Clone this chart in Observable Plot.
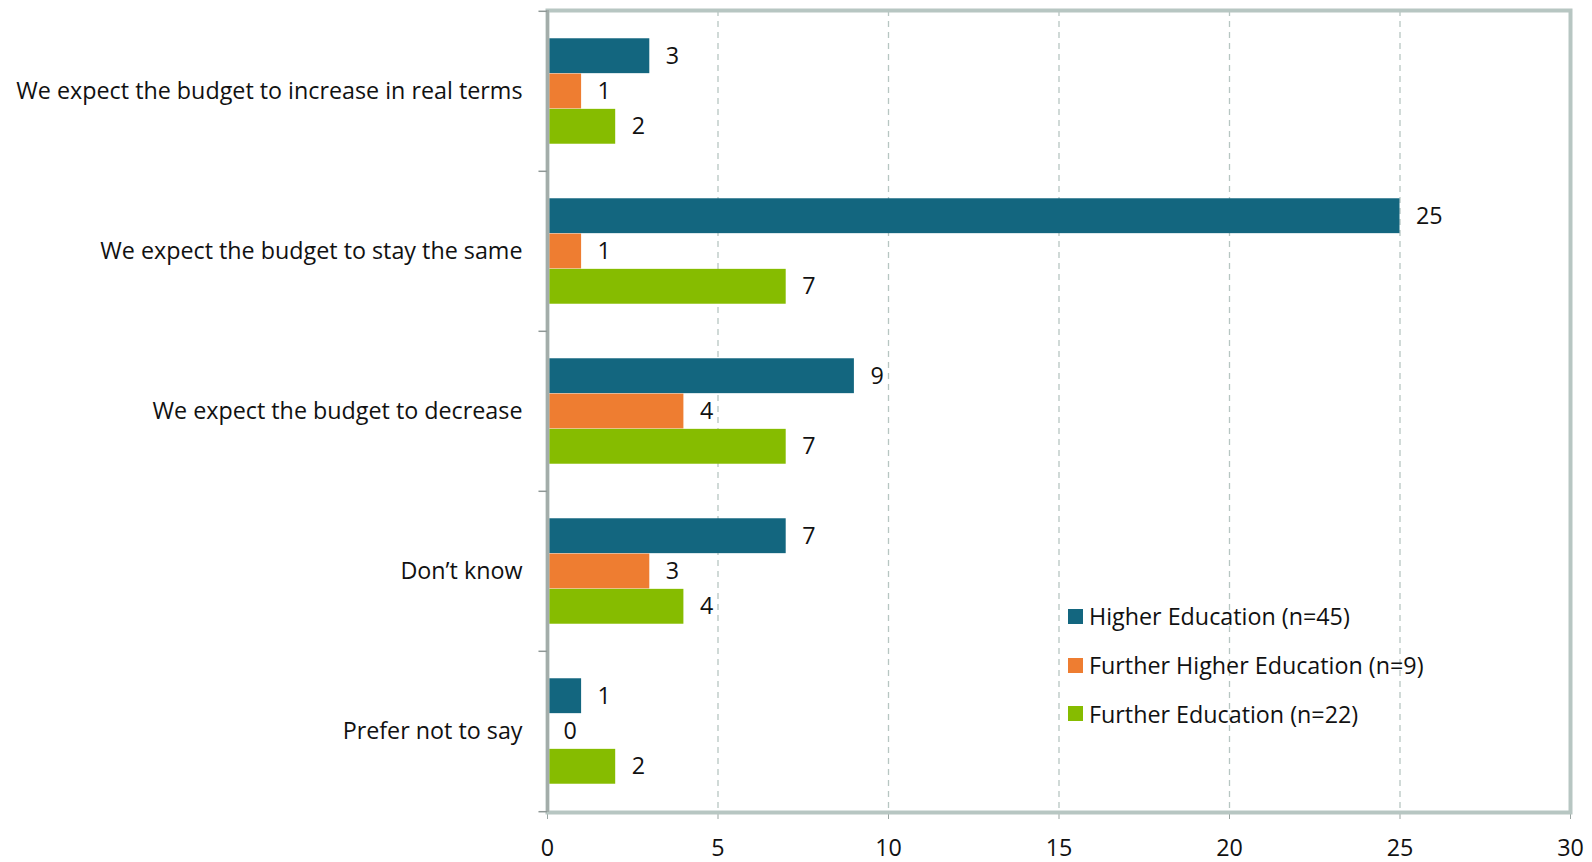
<!DOCTYPE html>
<html>
<head>
<meta charset="utf-8">
<script src="https://cdn.jsdelivr.net/npm/d3@7"></script>
<script src="https://cdn.jsdelivr.net/npm/@observablehq/plot@0.6"></script>
<style>
  html, body { margin: 0; padding: 0; background: #fff; }
  #wrap { position: relative; width: 1592px; height: 862px; font-family: "Open Sans", sans-serif; color: #111; }
  #legend { position: absolute; left: 1068px; top: 592px; font-size: 23.3px; }
  #legend .row { display: flex; align-items: center; height: 48.7px; }
  #legend .sw { width: 15px; height: 15px; margin-right: 6px; }
  svg g[aria-label="x-axis tick"] { stroke: #9aa5a2; }
</style>
</head>
<body>
<div id="wrap"><div id="legend"></div></div>
<script>
const categories = [
  "We expect the budget to increase in real terms",
  "We expect the budget to stay the same",
  "We expect the budget to decrease",
  "Don’t know",
  "Prefer not to say"
];
const seriesNames = ["Higher Education (n=45)", "Further Higher Education (n=9)", "Further Education (n=22)"];
const higherEducation = [3, 25, 9, 7, 1];
const furtherHigherEducation = [1, 1, 4, 3, 0];
const furtherEducation = [2, 7, 7, 4, 2];
const seriesColors = ["#13667F", "#EE7D31", "#86BC00"];
const xTicks = [0, 5, 10, 15, 20, 25, 30];

const seriesValues = [higherEducation, furtherHigherEducation, furtherEducation];
const rows = [];
seriesNames.forEach((s, i) => categories.forEach((c, j) => rows.push({series: s, si: i, category: c, value: seriesValues[i][j]})));

const W = 1592, H = 862, mt = 10, mb = 50, ml = 547, mr = 22;
const step = (H - mt - mb) / categories.length;
const barH = step * 0.22;
const inset = (step - barH) / 2;
const gridColor = "#B7C6C2";
const fs = 23.3;

const marks = [
  Plot.ruleX(xTicks.filter(t => t > 0 && t < 30), {stroke: gridColor, strokeWidth: 1.3, strokeDasharray: "6,5"}),
];
seriesNames.forEach((s, i) => {
  const d = rows.filter(r => r.si === i);
  marks.push(Plot.barX(d, {x: "value", y: "category", fill: seriesColors[i], insetTop: inset, insetBottom: inset, dy: (i - 1) * barH}));
  marks.push(Plot.text(d, {x: "value", y: "category", text: r => String(r.value), dx: 16, dy: (i - 1) * barH, textAnchor: "start", fontSize: fs, fill: "#111"}));
});
marks.push(Plot.frame({stroke: gridColor, strokeWidth: 4}));
marks.push(Plot.ruleX([0], {stroke: "#A3ADAA", strokeWidth: 3}));
marks.push(Plot.ruleY(categories, {y: d => d, x1: -0.25, x2: 0, dy: -step / 2, stroke: "#8f9896", strokeWidth: 1.5}));
marks.push(Plot.ruleY([categories[categories.length - 1]], {y: d => d, x1: -0.25, x2: 0, dy: step / 2, stroke: "#8f9896", strokeWidth: 1.5}));

const chart = Plot.plot({
  width: W, height: H,
  marginTop: mt, marginBottom: mb, marginLeft: ml, marginRight: mr,
  style: {fontSize: fs + "px", fontFamily: "'Open Sans', sans-serif", color: "#111", background: "#fff", overflow: "visible"},
  x: {domain: [0, 30], ticks: xTicks, tickSize: 7, tickPadding: 20, label: null},
  y: {domain: categories, padding: 0, tickSize: 0, tickPadding: 25, label: null},
  marks
});
const wrap = document.getElementById("wrap");
wrap.insertBefore(chart, wrap.firstChild);

const legend = document.getElementById("legend");
seriesNames.forEach((s, i) => {
  const row = document.createElement("div");
  row.className = "row";
  row.innerHTML = `<div class="sw" style="background:${seriesColors[i]}"></div><span>${s}</span>`;
  legend.appendChild(row);
});
</script>
</body>
</html>
